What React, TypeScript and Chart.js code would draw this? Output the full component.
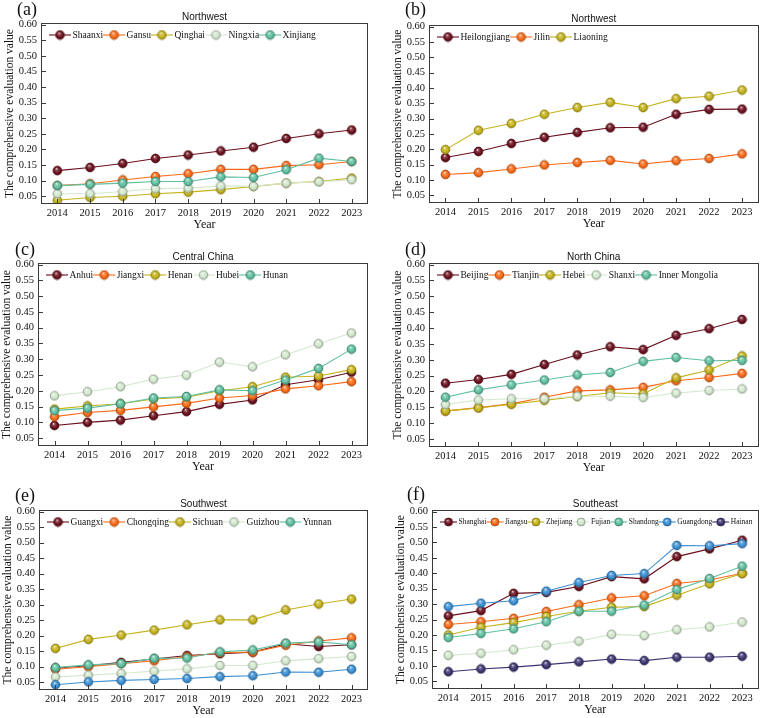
import React, { useEffect, useRef } from "react";
import { Chart, registerables } from "chart.js";

Chart.register(...registerables);

const SERIF = "'Liberation Serif', 'Times New Roman', serif";
const SANS = "'Liberation Sans', Arial, sans-serif";

const years = ["2014", "2015", "2016", "2017", "2018", "2019", "2020", "2021", "2022", "2023"];
const yTickValues = [0.05, 0.1, 0.15, 0.2, 0.25, 0.3, 0.35, 0.4, 0.45, 0.5, 0.55, 0.6];
const Y_MIN = 0.025;
const Y_MAX = 0.605;

// (a) Northwest
const shaanxi = [0.132, 0.142, 0.155, 0.171, 0.182, 0.195, 0.207, 0.235, 0.25, 0.262];
const gansu = [0.084, 0.09, 0.102, 0.113, 0.122, 0.136, 0.136, 0.148, 0.151, 0.161];
const qinghai = [0.037, 0.046, 0.05, 0.058, 0.063, 0.071, 0.081, 0.092, 0.097, 0.108];
const ningxia = [0.058, 0.058, 0.065, 0.074, 0.076, 0.083, 0.082, 0.092, 0.096, 0.103];
const xinjiang = [0.084, 0.088, 0.092, 0.097, 0.097, 0.112, 0.11, 0.135, 0.172, 0.161];

// (b) Northeast provinces
const heilongjiang = [0.173, 0.193, 0.219, 0.239, 0.255, 0.27, 0.272, 0.314, 0.33, 0.331];
const jilin = [0.118, 0.124, 0.136, 0.149, 0.157, 0.164, 0.152, 0.163, 0.17, 0.185];
const liaoning = [0.199, 0.262, 0.284, 0.314, 0.336, 0.353, 0.336, 0.365, 0.373, 0.393];

// (c) Central China
const anhui = [0.09, 0.1, 0.107, 0.121, 0.134, 0.157, 0.171, 0.219, 0.235, 0.259];
const jiangxi = [0.118, 0.131, 0.138, 0.149, 0.16, 0.177, 0.185, 0.206, 0.216, 0.229];
const henan = [0.142, 0.152, 0.159, 0.174, 0.18, 0.2, 0.213, 0.243, 0.247, 0.267];
const hubei = [0.184, 0.197, 0.213, 0.237, 0.25, 0.291, 0.276, 0.314, 0.349, 0.383];
const hunan = [0.137, 0.145, 0.159, 0.177, 0.182, 0.203, 0.2, 0.234, 0.271, 0.332];

// (d) North China
const beijing = [0.226, 0.238, 0.254, 0.285, 0.315, 0.341, 0.332, 0.377, 0.398, 0.427];
const tianjin = [0.138, 0.149, 0.161, 0.182, 0.202, 0.205, 0.213, 0.234, 0.244, 0.257];
const hebei = [0.139, 0.148, 0.16, 0.172, 0.184, 0.196, 0.192, 0.243, 0.268, 0.312];
const shanxi = [0.159, 0.173, 0.177, 0.177, 0.185, 0.185, 0.181, 0.195, 0.203, 0.208];
const innerMongolia = [0.182, 0.205, 0.221, 0.236, 0.252, 0.26, 0.295, 0.307, 0.297, 0.298];

// (e) Southwest
const guangxi = [0.096, 0.103, 0.114, 0.125, 0.136, 0.142, 0.147, 0.174, 0.165, 0.171];
const chongqing = [0.092, 0.1, 0.11, 0.119, 0.132, 0.145, 0.147, 0.169, 0.183, 0.193];
const sichuan = [0.159, 0.188, 0.202, 0.218, 0.235, 0.251, 0.251, 0.283, 0.302, 0.318];
const guizhou = [0.067, 0.073, 0.078, 0.086, 0.093, 0.104, 0.104, 0.119, 0.126, 0.133];
const yunnan = [0.097, 0.106, 0.11, 0.127, 0.128, 0.148, 0.154, 0.176, 0.18, 0.171];
const southwestUnlisted = [0.042, 0.051, 0.056, 0.059, 0.062, 0.068, 0.071, 0.083, 0.082, 0.092];

// (f) Southeast
const shanghai = [0.262, 0.279, 0.335, 0.338, 0.357, 0.389, 0.382, 0.454, 0.479, 0.507];
const jiangsu = [0.234, 0.243, 0.254, 0.276, 0.298, 0.32, 0.327, 0.367, 0.378, 0.4];
const zhejiang = [0.2, 0.225, 0.24, 0.26, 0.277, 0.29, 0.292, 0.329, 0.366, 0.399];
const fujian = [0.134, 0.141, 0.152, 0.167, 0.18, 0.202, 0.198, 0.217, 0.226, 0.242];
const shandong = [0.192, 0.205, 0.22, 0.243, 0.277, 0.277, 0.297, 0.347, 0.383, 0.423];
const guangdong = [0.292, 0.303, 0.311, 0.342, 0.37, 0.393, 0.399, 0.49, 0.489, 0.496];
const hainan = [0.081, 0.09, 0.096, 0.104, 0.113, 0.122, 0.117, 0.128, 0.128, 0.131];

const MAROON = "#6b0f1d";
const ORANGE = "#fb6a16";
const OLIVE = "#c5b31a";
const PALE = "#d3e8ce";
const TEAL = "#5fc0a0";
const BLUE = "#3a8fd3";
const INDIGO = "#3b3470";

type Series = { label: string; data: number[]; color: string; inLegend?: boolean };
type Panel = {
  tag: string;
  title: string;
  x: number;
  y: number;
  w: number;
  h: number;
  L: number;
  T: number;
  R: number;
  B: number;
  tagX: number;
  tagY: number;
  legendFont: number;
  legendLine: number;
  series: Series[];
};

const panels: Panel[] = [
  {
    tag: "(a)", title: "Northwest", x: 0, y: 0, w: 382, h: 240,
    L: 41, T: 23, R: 368, B: 204, tagX: 17, tagY: 10, legendFont: 9.5, legendLine: 22,
    series: [
      { label: "Shaanxi", data: shaanxi, color: MAROON },
      { label: "Gansu", data: gansu, color: ORANGE },
      { label: "Qinghai", data: qinghai, color: OLIVE },
      { label: "Ningxia", data: ningxia, color: PALE },
      { label: "Xinjiang", data: xinjiang, color: TEAL },
    ],
  },
  {
    tag: "(b)", title: "Northwest", x: 382, y: 0, w: 382, h: 240,
    L: 47, T: 25, R: 380, B: 203, tagX: 23, tagY: 10, legendFont: 9.5, legendLine: 22,
    series: [
      { label: "Heilongjiang", data: heilongjiang, color: MAROON },
      { label: "Jilin", data: jilin, color: ORANGE },
      { label: "Liaoning", data: liaoning, color: OLIVE },
    ],
  },
  {
    tag: "(c)", title: "Central China", x: 0, y: 240, w: 382, h: 238,
    L: 38, T: 23, R: 368, B: 206, tagX: 15, tagY: 10, legendFont: 9.5, legendLine: 22,
    series: [
      { label: "Anhui", data: anhui, color: MAROON },
      { label: "Jiangxi", data: jiangxi, color: ORANGE },
      { label: "Henan", data: henan, color: OLIVE },
      { label: "Hubei", data: hubei, color: PALE },
      { label: "Hunan", data: hunan, color: TEAL },
    ],
  },
  {
    tag: "(d)", title: "North China", x: 382, y: 240, w: 382, h: 238,
    L: 47, T: 23, R: 380, B: 207, tagX: 23, tagY: 10, legendFont: 9.5, legendLine: 22,
    series: [
      { label: "Beijing", data: beijing, color: MAROON },
      { label: "Tianjin", data: tianjin, color: ORANGE },
      { label: "Hebei", data: hebei, color: OLIVE },
      { label: "Shanxi", data: shanxi, color: PALE },
      { label: "Inner Mongolia", data: innerMongolia, color: TEAL },
    ],
  },
  {
    tag: "(e)", title: "Southwest", x: 0, y: 478, w: 382, h: 240,
    L: 39, T: 32, R: 368, B: 212, tagX: 15, tagY: 18, legendFont: 9.5, legendLine: 22,
    series: [
      { label: "Guangxi", data: guangxi, color: MAROON },
      { label: "Chongqing", data: chongqing, color: ORANGE },
      { label: "Sichuan", data: sichuan, color: OLIVE },
      { label: "Guizhou", data: guizhou, color: PALE },
      { label: "Yunnan", data: yunnan, color: TEAL },
      { label: "", data: southwestUnlisted, color: BLUE, inLegend: false },
    ],
  },
  {
    tag: "(f)", title: "Southeast", x: 382, y: 478, w: 382, h: 240,
    L: 50, T: 32, R: 379, B: 211, tagX: 25, tagY: 17, legendFont: 7.5, legendLine: 17,
    series: [
      { label: "Shanghai", data: shanghai, color: MAROON },
      { label: "Jiangsu", data: jiangsu, color: ORANGE },
      { label: "Zhejiang", data: zhejiang, color: OLIVE },
      { label: "Fujian", data: fujian, color: PALE },
      { label: "Shandong", data: shandong, color: TEAL },
      { label: "Guangdong", data: guangdong, color: BLUE },
      { label: "Hainan", data: hainan, color: INDIGO },
    ],
  },
];

function mix(hex: string, amt: number): string {
  const n = parseInt(hex.slice(1), 16);
  const ch = [(n >> 16) & 255, (n >> 8) & 255, n & 255];
  const target = amt >= 0 ? 255 : 0;
  const a = Math.abs(amt);
  const out = ch.map((c) => Math.round(c + (target - c) * a));
  return `rgb(${out[0]},${out[1]},${out[2]})`;
}

// Shaded sphere marker, used both for data points and legend keys
function makeBall(color: string, r: number): HTMLCanvasElement {
  const s = Math.ceil(r * 2 + 2);
  const c = document.createElement("canvas");
  c.width = s;
  c.height = s;
  const g = c.getContext("2d")!;
  const cx = s / 2;
  const cy = s / 2;
  const grad = g.createRadialGradient(cx - r * 0.25, cy - r * 0.45, 0, cx, cy, r);
  grad.addColorStop(0, mix(color, 0.9));
  grad.addColorStop(0.3, mix(color, 0.25));
  grad.addColorStop(0.7, color);
  grad.addColorStop(1, mix(color, -0.25));
  g.beginPath();
  g.arc(cx, cy, r, 0, Math.PI * 2);
  g.fillStyle = grad;
  g.fill();
  g.lineWidth = 0.8;
  g.strokeStyle = mix(color, -0.3);
  g.stroke();
  return c;
}

function PanelChart({ p }: { p: Panel }) {
  const ref = useRef<HTMLCanvasElement | null>(null);

  useEffect(() => {
    if (!ref.current) return;
    const balls = p.series.map((s) => makeBall(s.color, 4.4));
    const legendBalls = p.series.map((s) => makeBall(s.color, p.legendFont < 9 ? 4 : 4.4));
    const n = p.series.length;

    const decor = {
      id: "panelDecor",
      afterDraw(chart: any) {
        const ctx: CanvasRenderingContext2D = chart.ctx;
        const { left, top, right, bottom } = chart.chartArea;
        const xs = chart.scales.x;
        const ys = chart.scales.y;
        ctx.save();

        // frame
        ctx.strokeStyle = "#3a3a3a";
        ctx.lineWidth = 1;
        ctx.strokeRect(Math.round(left) + 0.5, Math.round(top) + 0.5, Math.round(right - left) - 1, Math.round(bottom - top) - 1);

        // inward ticks
        ctx.beginPath();
        years.forEach((_, i) => {
          const px = Math.round(xs.getPixelForValue(i)) + 0.5;
          ctx.moveTo(px, bottom - 1);
          ctx.lineTo(px, bottom - 5);
        });
        yTickValues.forEach((v) => {
          const py = Math.round(ys.getPixelForValue(v)) + 0.5;
          ctx.moveTo(left + 1, py);
          ctx.lineTo(left + 5, py);
        });
        ctx.stroke();

        // panel title
        ctx.fillStyle = "#111";
        ctx.font = `10px ${SANS}`;
        ctx.textAlign = "center";
        ctx.textBaseline = "middle";
        ctx.fillText(p.title, (left + right) / 2, top - 6);

        // panel tag
        ctx.font = `18px ${SERIF}`;
        ctx.textAlign = "left";
        ctx.fillText(p.tag, p.tagX, p.tagY);

        // axis titles
        ctx.font = `12px ${SERIF}`;
        ctx.textAlign = "center";
        ctx.fillText("Year", (left + right) / 2, bottom + 21);
        ctx.save();
        ctx.translate(left - 31, (top + bottom) / 2);
        ctx.rotate(-Math.PI / 2);
        ctx.font = `11.5px ${SERIF}`;
        ctx.fillText("The comprehensive evaluation value", 0, 0);
        ctx.restore();

        // legend
        ctx.font = `${p.legendFont}px ${SERIF}`;
        ctx.textAlign = "left";
        ctx.textBaseline = "middle";
        let lx = left + 8;
        const ly = top + 12;
        p.series.forEach((s, i) => {
          if (s.inLegend === false) return;
          ctx.strokeStyle = s.color;
          ctx.lineWidth = 1.1;
          ctx.beginPath();
          ctx.moveTo(lx, ly);
          ctx.lineTo(lx + p.legendLine, ly);
          ctx.stroke();
          const b = legendBalls[i];
          ctx.drawImage(b, lx + p.legendLine / 2 - b.width / 2, ly - b.height / 2);
          const tx = lx + p.legendLine + 1.5;
          ctx.fillStyle = "#111";
          ctx.fillText(s.label, tx, ly + 0.5);
          lx = tx + ctx.measureText(s.label).width;
        });

        ctx.restore();
      },
    };

    const chart = new Chart(ref.current, {
      type: "line",
      data: {
        labels: years,
        datasets: p.series.map((s, i) => ({
          label: s.label,
          data: s.data,
          borderColor: s.color,
          backgroundColor: s.color,
          borderWidth: 1.1,
          pointStyle: balls[i] as any,
          pointRadius: 4.4,
          tension: 0,
          fill: false,
          order: n - i,
        })),
      },
      options: {
        responsive: false,
        animation: false,
        events: [],
        layout: { padding: { left: 0, top: p.T, right: p.w - p.R, bottom: 0 } },
        plugins: {
          legend: { display: false },
          tooltip: { enabled: false },
          title: { display: false },
        },
        scales: {
          x: {
            type: "category",
            offset: true,
            grid: { display: false, drawTicks: false },
            border: { display: false },
            ticks: {
              font: { family: SERIF, size: 10.5 },
              color: "#111",
              padding: 3,
              maxRotation: 0,
              autoSkip: false,
            },
            afterFit: (s: any) => {
              s.height = p.h - p.B;
            },
          },
          y: {
            type: "linear",
            min: Y_MIN,
            max: Y_MAX,
            grid: { display: false, drawTicks: false },
            border: { display: false },
            afterBuildTicks: (s: any) => {
              s.ticks = yTickValues.map((v) => ({ value: v }));
            },
            ticks: {
              font: { family: SERIF, size: 10.5 },
              color: "#111",
              padding: 4,
              callback: (v: any) => Number(v).toFixed(2),
            },
            afterFit: (s: any) => {
              s.width = p.L;
            },
          },
        },
      } as any,
      plugins: [decor],
    });
    return () => chart.destroy();
  }, [p]);

  return (
    <div style={{ position: "absolute", left: p.x, top: p.y, width: p.w, height: p.h }}>
      <canvas ref={ref} width={p.w} height={p.h} style={{ display: "block", width: p.w, height: p.h }} />
    </div>
  );
}

export default function App() {
  return (
    <div style={{ position: "absolute", left: 0, top: 0, width: 764, height: 718, background: "#fff", overflow: "hidden" }}>
      {panels.map((p) => (
        <PanelChart key={p.tag} p={p} />
      ))}
    </div>
  );
}
